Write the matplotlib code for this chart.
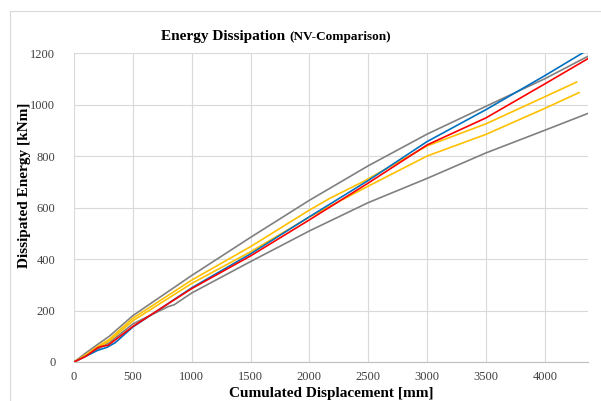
import matplotlib.pyplot as plt
from matplotlib.patches import Rectangle

# series (x: cumulated displacement [mm], y: energy [kNm])
gray_hi_x = [0, 100, 200, 300, 500, 1000, 1500, 2000, 2500, 3000, 3500, 4000, 4370]
gray_hi_y = [0, 35, 68, 100, 180, 336, 484, 628, 762, 885, 993, 1100, 1188]

gray_lo_x = [0, 100, 200, 300, 500, 800, 850, 1000, 1500, 2000, 2500, 3000, 3500, 4000, 4370]
gray_lo_y = [0, 25, 50, 75, 148, 215, 222, 268, 390, 509, 619, 713, 812, 900, 966]

yel_a_x = [0, 100, 200, 300, 500, 1000, 1500, 2000, 2175, 2455, 3000, 3500, 4000, 4270]
yel_a_y = [0, 28, 60, 88, 170, 318, 448, 590, 636, 700, 839, 925, 1030, 1087]

yel_b_x = [0, 100, 200, 300, 500, 1000, 1500, 2000, 2500, 3000, 3500, 4000, 4290]
yel_b_y = [0, 26, 56, 82, 160, 305, 428, 563, 683, 800, 884, 985, 1046]

blue_x = [0, 100, 200, 280, 350, 500, 1000, 1500, 2000, 2500, 3000, 3500, 4000, 4321]
blue_y = [0, 22, 45, 57, 75, 136, 288, 420, 564, 705, 856, 980, 1112, 1200]

red_x = [0, 100, 200, 230, 290, 500, 1000, 1500, 2000, 2500, 3000, 3500, 4000, 4370]
red_y = [0, 22, 55, 60, 65, 138, 285, 412, 552, 695, 843, 948, 1080, 1179]

x_ticks = [0, 500, 1000, 1500, 2000, 2500, 3000, 3500, 4000]
y_ticks = [0, 200, 400, 600, 800, 1000, 1200]

W, H = 601, 401
fig = plt.figure(figsize=(W / 100, H / 100), dpi=100)
fig.patches.append(Rectangle((10 / W, -0.1), 1.2, 1 - 11 / H + 0.1, transform=fig.transFigure,
                             fill=False, edgecolor='#d9d9d9', lw=0.8))

ax = fig.add_axes([74 / W, (H - 362) / H, (588 - 74) / W, (362 - 53) / H])

lw = 1.2
ax.plot(gray_lo_x, gray_lo_y, color='#808080', lw=lw)
ax.plot(gray_hi_x, gray_hi_y, color='#808080', lw=lw)
ax.plot(yel_b_x, yel_b_y, color='#ffc000', lw=lw)
ax.plot(yel_a_x, yel_a_y, color='#ffc000', lw=lw)
ax.plot(blue_x, blue_y, color='#0070c0', lw=lw)
ax.plot(red_x, red_y, color='#ff0000', lw=lw)

ax.set_xlim(0, 4367)
ax.set_ylim(0, 1200)
ax.set_xticks(x_ticks)
ax.set_yticks(y_ticks)
ax.grid(True, color='#d9d9d9', lw=0.8)
ax.set_axisbelow(True)
for s in ['top', 'right', 'left']:
    ax.spines[s].set_visible(False)
ax.spines['bottom'].set_color('#bfbfbf')
ax.tick_params(length=0, labelcolor='#404040', labelsize=9)
ax.tick_params(axis='y', pad=13.5)
ax.tick_params(axis='x', pad=6.5)
for lab in ax.get_xticklabels() + ax.get_yticklabels():
    lab.set_family('Liberation Serif')

fig.text(331 / W, 1 - 394 / H, 'Cumulated Displacement [mm]', family='Liberation Serif',
         fontweight='bold', fontsize=11, ha='center', va='center')
fig.text(25 / W, 1 - 185 / H, 'Dissipated Energy [kNm]', family='Liberation Serif',
         fontweight='bold', fontsize=11, ha='center', va='center', rotation=90)

fig.text(289 / W, 1 - 40 / H, 'Energy Dissipation ', family='Liberation Serif',
         fontweight='bold', fontsize=11, ha='right', va='baseline')
fig.text(289 / W, 1 - 40 / H, '(NV-Comparison)', family='Liberation Serif',
         fontweight='bold', fontsize=9.5, ha='left', va='baseline')

fig.savefig('out.png', dpi=100)
